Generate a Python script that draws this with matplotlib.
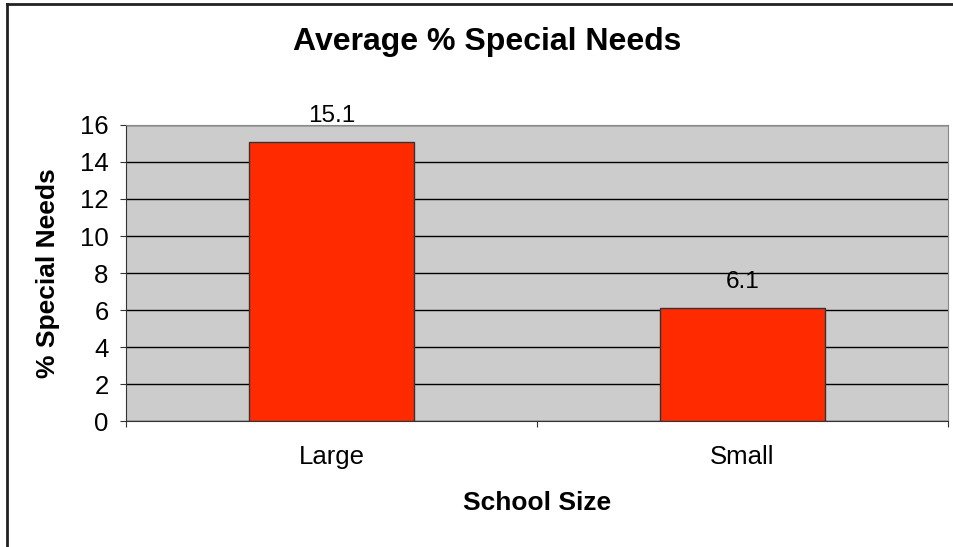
import matplotlib.pyplot as plt
from matplotlib.lines import Line2D

plt.rcParams['font.family'] = ['Liberation Sans', 'DejaVu Sans']

# average % special needs by school size
sizes = ['Large', 'Small']
pct_special = [15.1, 6.1]
y_ticks = [0, 2, 4, 6, 8, 10, 12, 14, 16]

fig = plt.figure(figsize=(9.54, 5.47), dpi=100)
ax = fig.add_axes([0.1321, 0.2303, 0.8616, 0.5412])
ax.set_facecolor('#cccccc')

x = list(range(len(sizes)))
bars = ax.bar(x, pct_special, width=0.4, color='#ff2a00', edgecolor='#333333',
              linewidth=1, zorder=3)
for b, v in zip(bars, pct_special):
    ax.text(b.get_x() + b.get_width() / 2, v + 0.8, f'{v:.1f}',
            ha='center', va='bottom', fontsize=17.5)

ax.set_xlim(-0.5, len(sizes) - 0.5)
ax.set_ylim(0, 16)
ax.set_yticks(y_ticks)
ax.yaxis.grid(True, color='black', linewidth=1)
ax.set_axisbelow(True)

# category ticks sit on the boundaries, labels in the middle
ax.set_xticks([-0.5, 0.5, 1.5])
ax.set_xticklabels([])
ax.set_xticks(x, minor=True)
ax.set_xticklabels(sizes, minor=True, fontsize=18.5)
ax.tick_params(axis='x', which='major', direction='out', length=4.5, color='#333333')
ax.tick_params(axis='x', which='minor', length=0, pad=17)
ax.tick_params(axis='y', direction='out', length=4.5, labelsize=18.5, color='#333333', pad=8)

for side in ['top', 'right']:
    ax.spines[side].set_color('#888888')
ax.spines['left'].set_color('#333333')
ax.spines['bottom'].set_color('#333333')

ax.set_xlabel('School Size', fontsize=19, fontweight='bold', va='center')
ax.xaxis.set_label_coords(0.5, -0.277)
ax.set_ylabel('% Special Needs', fontsize=19, fontweight='bold', va='center')
ax.yaxis.set_label_coords(-0.095, 0.5)
fig.text(0.5106, 0.924, 'Average % Special Needs', ha='center', va='center',
         fontsize=23, fontweight='bold')

# chart frame along the top and left
fig.add_artist(Line2D([0.0075, 0.0075], [0, 0.993], color='#222222', linewidth=2))
fig.add_artist(Line2D([0.0075, 1], [0.993, 0.993], color='#222222', linewidth=2))

fig.savefig('out.png', dpi=100)
